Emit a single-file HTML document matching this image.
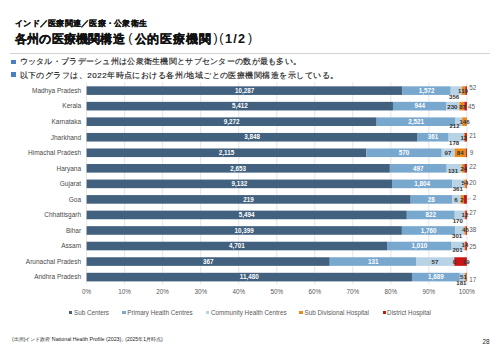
<!DOCTYPE html>
<html><head><meta charset="utf-8"><style>
html,body{margin:0;padding:0;background:#fff;}
body{width:500px;height:353px;position:relative;overflow:hidden;font-family:"Liberation Sans",sans-serif;color:#222;}
.abs{position:absolute;white-space:nowrap;}
.sub{position:absolute;left:15px;top:18px;font-size:8px;letter-spacing:0.25px;font-weight:bold;color:#111;-webkit-text-stroke:0.2px #111;white-space:nowrap;line-height:11px;}
.title{position:absolute;top:32px;font-size:12px;font-weight:bold;color:#111;-webkit-text-stroke:0.25px #111;white-space:nowrap;line-height:15px;}
.rule{position:absolute;left:10px;top:52.5px;width:480px;height:1px;background:#d2d2d2;}
.bl{position:absolute;left:11px;width:4.8px;height:4.9px;background:#4a7fc1;}
.bt{position:absolute;left:19.5px;font-size:8px;color:#1a1a1a;-webkit-text-stroke:0.15px #1a1a1a;white-space:nowrap;line-height:10px;}
.cat{position:absolute;right:418.9px;font-size:6.5px;color:#4a4a4a;white-space:nowrap;line-height:8px;}
.dl{position:absolute;width:40px;text-align:center;font-size:6.1px;line-height:8px;white-space:nowrap;font-weight:bold;}
.dl.w{color:#fff;font-size:6.3px;}
.dl.d{color:#333;}
.dl.o{color:#595959;font-weight:normal;font-size:6.3px;}
.ax{position:absolute;width:40px;text-align:center;font-size:6.3px;line-height:8px;color:#595959;}
.lm{position:absolute;width:3.4px;height:3.4px;}
.lt{position:absolute;font-size:6.3px;line-height:8px;color:#595959;white-space:nowrap;}
svg{position:absolute;left:0;top:0;}
.tp{font-size:12.5px;-webkit-text-stroke:0;font-weight:normal;margin-top:-1.5px;}
.tn{font-size:12.7px;font-weight:bold;}
.foot{position:absolute;left:12px;top:335.5px;font-size:5px;line-height:6px;color:#222;white-space:nowrap;}
.pg{position:absolute;left:482.5px;top:337.5px;font-size:6.3px;line-height:7px;color:#222;}
</style></head><body>
<div class="sub">インド／医療関連／医療・公衆衛生</div>
<div class="title" style="left:15px;letter-spacing:0.2px">各州の医療機関構造</div>
<div class="title tp" style="left:128.2px">(</div>
<div class="title" style="left:134.6px;letter-spacing:0.9px">公的医療機関</div>
<div class="title tp" style="left:213.6px">)</div>
<div class="title tp" style="left:219.2px">(</div>
<div class="title tn" style="left:225px;letter-spacing:1.2px;-webkit-text-stroke:0">1/2</div>
<div class="title tp" style="left:247.9px">)</div>
<div class="rule"></div>
<div class="bl" style="top:59.6px"></div>
<div class="bt" style="top:57.2px;letter-spacing:0.29px">ウッタル・プラデーシュ州は公衆衛生機関とサブセンターの数が最も多い。</div>
<div class="bl" style="top:72.3px"></div>
<div class="bt" style="top:70.8px;letter-spacing:0.48px">以下のグラフは、2022年時点における各州/地域ごとの医療機関構造を示している。</div>
<svg width="500" height="353" viewBox="0 0 500 353">
<line x1="86.60" y1="82.5" x2="86.60" y2="284.52" stroke="#dedede" stroke-width="0.8"/>
<line x1="124.63" y1="82.5" x2="124.63" y2="284.52" stroke="#dedede" stroke-width="0.8"/>
<line x1="162.66" y1="82.5" x2="162.66" y2="284.52" stroke="#dedede" stroke-width="0.8"/>
<line x1="200.69" y1="82.5" x2="200.69" y2="284.52" stroke="#dedede" stroke-width="0.8"/>
<line x1="238.72" y1="82.5" x2="238.72" y2="284.52" stroke="#dedede" stroke-width="0.8"/>
<line x1="276.75" y1="82.5" x2="276.75" y2="284.52" stroke="#dedede" stroke-width="0.8"/>
<line x1="314.78" y1="82.5" x2="314.78" y2="284.52" stroke="#dedede" stroke-width="0.8"/>
<line x1="352.81" y1="82.5" x2="352.81" y2="284.52" stroke="#dedede" stroke-width="0.8"/>
<line x1="390.84" y1="82.5" x2="390.84" y2="284.52" stroke="#dedede" stroke-width="0.8"/>
<line x1="428.87" y1="82.5" x2="428.87" y2="284.52" stroke="#dedede" stroke-width="0.8"/>
<line x1="466.90" y1="82.5" x2="466.90" y2="284.52" stroke="#dedede" stroke-width="0.8"/>
<rect x="86.60" y="86.32" width="315.85" height="8.6" fill="#41617f"/>
<rect x="402.45" y="86.32" width="48.27" height="8.6" fill="#79a8cf"/>
<rect x="450.72" y="86.32" width="10.93" height="8.6" fill="#b8d3e6"/>
<rect x="461.65" y="86.32" width="3.65" height="8.6" fill="#e98a1a"/>
<rect x="465.30" y="86.32" width="1.60" height="8.6" fill="#c91515"/>
<rect x="86.60" y="101.86" width="306.37" height="8.6" fill="#41617f"/>
<rect x="392.97" y="101.86" width="53.44" height="8.6" fill="#79a8cf"/>
<rect x="446.41" y="101.86" width="13.02" height="8.6" fill="#b8d3e6"/>
<rect x="459.43" y="101.86" width="4.92" height="8.6" fill="#e98a1a"/>
<rect x="464.35" y="101.86" width="2.55" height="8.6" fill="#c91515"/>
<rect x="86.60" y="117.40" width="290.05" height="8.6" fill="#41617f"/>
<rect x="376.65" y="117.40" width="78.86" height="8.6" fill="#79a8cf"/>
<rect x="455.51" y="117.40" width="6.63" height="8.6" fill="#b8d3e6"/>
<rect x="462.15" y="117.40" width="4.57" height="8.6" fill="#e98a1a"/>
<rect x="466.71" y="117.40" width="0.19" height="8.6" fill="#c91515"/>
<rect x="86.60" y="132.94" width="331.01" height="8.6" fill="#41617f"/>
<rect x="417.61" y="132.94" width="31.05" height="8.6" fill="#79a8cf"/>
<rect x="448.66" y="132.94" width="15.31" height="8.6" fill="#b8d3e6"/>
<rect x="463.98" y="132.94" width="1.12" height="8.6" fill="#e98a1a"/>
<rect x="465.09" y="132.94" width="1.81" height="8.6" fill="#c91515"/>
<rect x="86.60" y="148.48" width="279.77" height="8.6" fill="#41617f"/>
<rect x="366.37" y="148.48" width="75.40" height="8.6" fill="#79a8cf"/>
<rect x="441.77" y="148.48" width="12.83" height="8.6" fill="#b8d3e6"/>
<rect x="454.60" y="148.48" width="11.11" height="8.6" fill="#e98a1a"/>
<rect x="465.71" y="148.48" width="1.19" height="8.6" fill="#c91515"/>
<rect x="86.60" y="164.02" width="303.26" height="8.6" fill="#41617f"/>
<rect x="389.86" y="164.02" width="56.81" height="8.6" fill="#79a8cf"/>
<rect x="446.67" y="164.02" width="14.97" height="8.6" fill="#b8d3e6"/>
<rect x="461.64" y="164.02" width="2.74" height="8.6" fill="#e98a1a"/>
<rect x="464.39" y="164.02" width="2.51" height="8.6" fill="#c91515"/>
<rect x="86.60" y="179.56" width="305.42" height="8.6" fill="#41617f"/>
<rect x="392.02" y="179.56" width="60.33" height="8.6" fill="#79a8cf"/>
<rect x="452.35" y="179.56" width="12.07" height="8.6" fill="#b8d3e6"/>
<rect x="464.43" y="179.56" width="1.81" height="8.6" fill="#e98a1a"/>
<rect x="466.23" y="179.56" width="0.67" height="8.6" fill="#c91515"/>
<rect x="86.60" y="195.10" width="324.07" height="8.6" fill="#41617f"/>
<rect x="410.67" y="195.10" width="41.43" height="8.6" fill="#79a8cf"/>
<rect x="452.10" y="195.10" width="8.88" height="8.6" fill="#b8d3e6"/>
<rect x="460.98" y="195.10" width="2.96" height="8.6" fill="#e98a1a"/>
<rect x="463.94" y="195.10" width="2.96" height="8.6" fill="#c91515"/>
<rect x="86.60" y="210.64" width="320.21" height="8.6" fill="#41617f"/>
<rect x="406.81" y="210.64" width="47.91" height="8.6" fill="#79a8cf"/>
<rect x="454.72" y="210.64" width="9.91" height="8.6" fill="#b8d3e6"/>
<rect x="464.63" y="210.64" width="0.70" height="8.6" fill="#e98a1a"/>
<rect x="465.33" y="210.64" width="1.57" height="8.6" fill="#c91515"/>
<rect x="86.60" y="226.18" width="315.29" height="8.6" fill="#41617f"/>
<rect x="401.89" y="226.18" width="53.36" height="8.6" fill="#79a8cf"/>
<rect x="455.26" y="226.18" width="9.13" height="8.6" fill="#b8d3e6"/>
<rect x="464.38" y="226.18" width="1.36" height="8.6" fill="#e98a1a"/>
<rect x="465.75" y="226.18" width="1.15" height="8.6" fill="#c91515"/>
<rect x="86.60" y="241.72" width="300.42" height="8.6" fill="#41617f"/>
<rect x="387.02" y="241.72" width="64.54" height="8.6" fill="#79a8cf"/>
<rect x="451.56" y="241.72" width="12.84" height="8.6" fill="#b8d3e6"/>
<rect x="464.41" y="241.72" width="0.89" height="8.6" fill="#e98a1a"/>
<rect x="465.30" y="241.72" width="1.60" height="8.6" fill="#c91515"/>
<rect x="86.60" y="257.26" width="243.15" height="8.6" fill="#41617f"/>
<rect x="329.75" y="257.26" width="86.79" height="8.6" fill="#79a8cf"/>
<rect x="416.55" y="257.26" width="37.76" height="8.6" fill="#b8d3e6"/>
<rect x="454.31" y="257.26" width="12.59" height="8.6" fill="#c91515"/>
<rect x="86.60" y="272.80" width="325.37" height="8.6" fill="#41617f"/>
<rect x="411.97" y="272.80" width="47.87" height="8.6" fill="#79a8cf"/>
<rect x="459.84" y="272.80" width="5.13" height="8.6" fill="#b8d3e6"/>
<rect x="464.97" y="272.80" width="1.45" height="8.6" fill="#e98a1a"/>
<rect x="466.42" y="272.80" width="0.48" height="8.6" fill="#c91515"/>
<line x1="467" y1="199.5" x2="471" y2="198.5" stroke="#888" stroke-width="0.5"/>
</svg>
<div class="cat" style="top:86.92px">Madhya Pradesh</div>
<div class="dl w" style="left:224.53px;top:86.82px">10,287</div>
<div class="dl w" style="left:406.59px;top:86.82px">1,572</div>
<div class="cat" style="top:102.46px">Kerala</div>
<div class="dl w" style="left:219.78px;top:102.36px">5,412</div>
<div class="dl w" style="left:399.69px;top:102.36px">944</div>
<div class="cat" style="top:118.00px">Karnataka</div>
<div class="dl w" style="left:211.63px;top:117.90px">9,272</div>
<div class="dl w" style="left:396.08px;top:117.90px">2,521</div>
<div class="cat" style="top:133.54px">Jharkhand</div>
<div class="dl w" style="left:232.10px;top:133.44px">3,848</div>
<div class="dl w" style="left:413.14px;top:133.44px">361</div>
<div class="cat" style="top:149.08px">Himachal Pradesh</div>
<div class="dl w" style="left:206.48px;top:148.98px">2,115</div>
<div class="dl w" style="left:384.07px;top:148.98px">570</div>
<div class="cat" style="top:164.62px">Haryana</div>
<div class="dl w" style="left:218.23px;top:164.52px">2,653</div>
<div class="dl w" style="left:398.26px;top:164.52px">497</div>
<div class="cat" style="top:180.16px">Gujarat</div>
<div class="dl w" style="left:219.31px;top:180.06px">9,132</div>
<div class="dl w" style="left:402.18px;top:180.06px">1,804</div>
<div class="cat" style="top:195.70px">Goa</div>
<div class="dl w" style="left:228.63px;top:195.60px">219</div>
<div class="dl w" style="left:411.39px;top:195.60px">28</div>
<div class="cat" style="top:211.24px">Chhattisgarh</div>
<div class="dl w" style="left:226.70px;top:211.14px">5,494</div>
<div class="dl w" style="left:410.76px;top:211.14px">822</div>
<div class="cat" style="top:226.78px">Bihar</div>
<div class="dl w" style="left:224.25px;top:226.68px">10,399</div>
<div class="dl w" style="left:408.58px;top:226.68px">1,760</div>
<div class="cat" style="top:242.32px">Assam</div>
<div class="dl w" style="left:216.81px;top:242.22px">4,701</div>
<div class="dl w" style="left:399.29px;top:242.22px">1,010</div>
<div class="cat" style="top:257.86px">Arunachal Pradesh</div>
<div class="dl w" style="left:188.18px;top:257.76px">367</div>
<div class="dl w" style="left:353.15px;top:257.76px">131</div>
<div class="cat" style="top:273.40px">Andhra Pradesh</div>
<div class="dl w" style="left:229.29px;top:273.30px">11,480</div>
<div class="dl w" style="left:415.91px;top:273.30px">1,689</div>
<div class="dl d" style="left:434.20px;top:93.00px">356</div>
<div class="dl d" style="left:443.00px;top:86.60px">119</div>
<div class="dl o" style="left:452.80px;top:83.80px">52</div>
<div class="dl d" style="left:432.40px;top:102.60px">230</div>
<div class="dl d" style="left:442.60px;top:102.60px">87</div>
<div class="dl o" style="left:451.60px;top:102.60px">45</div>
<div class="dl d" style="left:434.50px;top:121.50px">212</div>
<div class="dl d" style="left:444.50px;top:118.00px">146</div>
<div class="dl d" style="left:434.20px;top:138.80px">178</div>
<div class="dl d" style="left:443.80px;top:133.60px">13</div>
<div class="dl o" style="left:452.80px;top:131.80px">21</div>
<div class="dl d" style="left:427.90px;top:148.60px">97</div>
<div class="dl d" style="left:440.20px;top:148.60px">84</div>
<div class="dl o" style="left:451.40px;top:148.60px">9</div>
<div class="dl d" style="left:433.00px;top:167.00px">131</div>
<div class="dl d" style="left:443.80px;top:164.60px">24</div>
<div class="dl o" style="left:452.80px;top:163.00px">22</div>
<div class="dl d" style="left:437.80px;top:184.80px">361</div>
<div class="dl d" style="left:445.00px;top:179.40px">54</div>
<div class="dl o" style="left:452.80px;top:179.40px">20</div>
<div class="dl d" style="left:436.00px;top:195.60px">6</div>
<div class="dl d" style="left:442.00px;top:195.60px">2</div>
<div class="dl o" style="left:454.60px;top:194.00px">2</div>
<div class="dl d" style="left:437.80px;top:216.60px">170</div>
<div class="dl d" style="left:445.00px;top:210.80px">12</div>
<div class="dl o" style="left:452.80px;top:208.80px">27</div>
<div class="dl d" style="left:437.20px;top:231.80px">301</div>
<div class="dl d" style="left:445.40px;top:226.20px">45</div>
<div class="dl o" style="left:452.80px;top:226.20px">38</div>
<div class="dl d" style="left:437.50px;top:245.80px">201</div>
<div class="dl d" style="left:445.00px;top:241.00px">14</div>
<div class="dl o" style="left:452.80px;top:243.40px">25</div>
<div class="dl d" style="left:415.00px;top:257.50px">57</div>
<div class="dl d" style="left:434.50px;top:257.50px">0</div>
<div class="dl d" style="left:446.20px;top:257.50px">19</div>
<div class="dl d" style="left:441.40px;top:278.60px">181</div>
<div class="dl d" style="left:443.50px;top:273.20px">51</div>
<div class="dl o" style="left:452.80px;top:275.60px">17</div>
<div class="ax" style="left:66.60px;top:288.3px">0%</div>
<div class="ax" style="left:104.63px;top:288.3px">10%</div>
<div class="ax" style="left:142.66px;top:288.3px">20%</div>
<div class="ax" style="left:180.69px;top:288.3px">30%</div>
<div class="ax" style="left:218.72px;top:288.3px">40%</div>
<div class="ax" style="left:256.75px;top:288.3px">50%</div>
<div class="ax" style="left:294.78px;top:288.3px">60%</div>
<div class="ax" style="left:332.81px;top:288.3px">70%</div>
<div class="ax" style="left:370.84px;top:288.3px">80%</div>
<div class="ax" style="left:408.87px;top:288.3px">90%</div>
<div class="ax" style="left:446.90px;top:288.3px">100%</div>
<div class="lm" style="left:68.90px;top:310.6px;background:#41617f"></div>
<div class="lt" style="left:74.00px;top:308.5px">Sub Centers</div>
<div class="lm" style="left:122.40px;top:310.6px;background:#79a8cf"></div>
<div class="lt" style="left:127.30px;top:308.5px">Primary Health Centres</div>
<div class="lm" style="left:205.80px;top:310.6px;background:#b8d3e6"></div>
<div class="lt" style="left:211.00px;top:308.5px">Community Health Centres</div>
<div class="lm" style="left:299.40px;top:310.6px;background:#e98a1a"></div>
<div class="lt" style="left:304.60px;top:308.5px">Sub Divisional Hospital</div>
<div class="lm" style="left:382.50px;top:310.6px;background:#c91515"></div>
<div class="lt" style="left:387.10px;top:308.5px">District Hospital</div>
<div class="foot">(出所)インド政府<span style="margin-left:-1px;margin-right:-2.5px">「</span><span style="font-size:5.3px">National Health Profile (2023)</span><span style="margin-right:-1px">」</span>(2025年1月時点)</div>
<div class="pg">28</div>
</body></html>
